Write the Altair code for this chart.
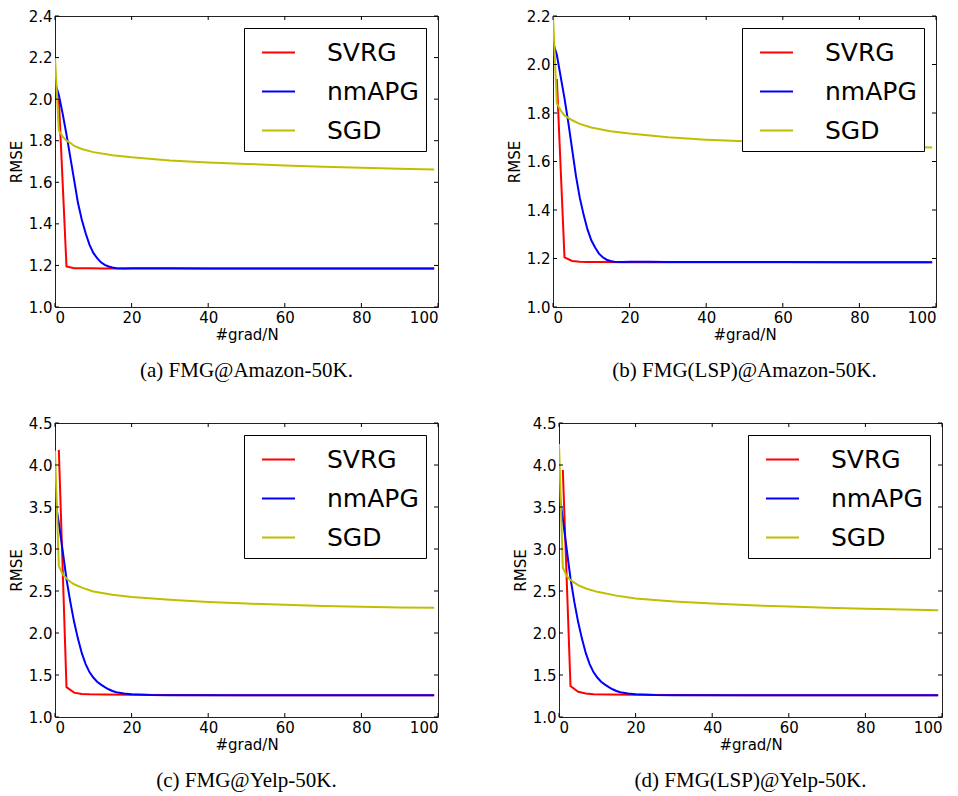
import altair as alt
import pandas as pd

SERIES = ["SVRG", "nmAPG", "SGD"]
COLORS = ["#ff0000", "#0000ff", "#bfbf00"]

X_TICKS = [0, 20, 40, 60, 80, 100]
A_YTICKS = [1.0, 1.2, 1.4, 1.6, 1.8, 2.0, 2.2, 2.4]
B_YTICKS = [1.0, 1.2, 1.4, 1.6, 1.8, 2.0, 2.2]
CD_YTICKS = [1.0, 1.5, 2.0, 2.5, 3.0, 3.5, 4.0, 4.5]

CAPTIONS = ["(a) FMG@Amazon-50K.", "(b) FMG(LSP)@Amazon-50K.",
            "(c) FMG@Yelp-50K.", "(d) FMG(LSP)@Yelp-50K."]

# x positions (#grad/N) of the recorded points
SVRG_X = [1, 3, 5, 7, 9, 13, 19, 29, 49, 69, 99]
NM_X = [0, 1, 2, 3, 4, 5, 6, 7, 8, 9, 10, 11, 12, 13, 14, 15, 16, 18, 20, 25, 30, 40, 60, 80, 99]
SGD_X = [0, 1, 2, 3, 4, 5, 7, 10, 15, 20, 30, 40, 50, 60, 70, 80, 90, 99]

# (a) FMG@Amazon-50K
a_svrg = [2.00, 1.195, 1.187, 1.186, 1.186, 1.185, 1.185, 1.185, 1.185, 1.185, 1.185]
a_nm = [2.08, 2.02, 1.93, 1.83, 1.72, 1.61, 1.50, 1.42, 1.355, 1.30, 1.26, 1.235, 1.215,
        1.203, 1.195, 1.19, 1.187, 1.185, 1.186, 1.187, 1.186, 1.185, 1.185, 1.185, 1.185]
a_sgd = [2.20, 1.85, 1.82, 1.80, 1.79, 1.775, 1.76, 1.745, 1.73, 1.72, 1.705, 1.695,
         1.688, 1.681, 1.675, 1.67, 1.665, 1.662]

# (b) FMG(LSP)@Amazon-50K
b_svrg = [1.94, 1.205, 1.19, 1.187, 1.186, 1.186, 1.185, 1.185, 1.185, 1.185, 1.185]
b_nm = [2.09, 2.04, 1.95, 1.86, 1.76, 1.65, 1.54, 1.45, 1.38, 1.32, 1.275, 1.245, 1.22,
        1.205, 1.195, 1.19, 1.187, 1.186, 1.187, 1.187, 1.186, 1.186, 1.186, 1.185, 1.185]
b_sgd = [2.20, 1.84, 1.81, 1.79, 1.78, 1.77, 1.755, 1.74, 1.725, 1.715, 1.70, 1.69,
         1.683, 1.677, 1.672, 1.667, 1.662, 1.658]

# (c) FMG@Yelp-50K
c_svrg = [4.18, 1.355, 1.29, 1.275, 1.27, 1.267, 1.264, 1.262, 1.26, 1.26, 1.26]
c_nm = [3.60, 3.31, 2.98, 2.64, 2.37, 2.13, 1.93, 1.76, 1.63, 1.535, 1.47, 1.42, 1.385,
        1.355, 1.33, 1.31, 1.295, 1.28, 1.27, 1.262, 1.26, 1.26, 1.26, 1.26, 1.26]
c_sgd = [4.17, 2.80, 2.70, 2.65, 2.61, 2.58, 2.54, 2.495, 2.455, 2.43, 2.395, 2.37,
         2.35, 2.335, 2.322, 2.313, 2.305, 2.30]

# (d) FMG(LSP)@Yelp-50K
d_svrg = [3.94, 1.37, 1.30, 1.28, 1.27, 1.267, 1.264, 1.262, 1.26, 1.26, 1.26]
d_nm = [3.70, 3.36, 3.00, 2.65, 2.37, 2.13, 1.93, 1.76, 1.63, 1.535, 1.47, 1.42, 1.385,
        1.355, 1.33, 1.31, 1.295, 1.28, 1.27, 1.262, 1.26, 1.26, 1.26, 1.26, 1.26]
d_sgd = [4.25, 2.78, 2.68, 2.63, 2.60, 2.57, 2.53, 2.49, 2.445, 2.41, 2.375, 2.35,
         2.33, 2.315, 2.30, 2.29, 2.28, 2.27]

W = 383
H1, H2 = 291, 294
FONT = "DejaVu Sans"


def make_df(svrg, nm, sgd):
    rows = []
    for x, y in zip(SVRG_X, svrg):
        rows.append({"series": "SVRG", "x": x, "y": y})
    for x, y in zip(NM_X, nm):
        rows.append({"series": "nmAPG", "x": x, "y": y})
    for x, y in zip(SGD_X, sgd):
        rows.append({"series": "SGD", "x": x, "y": y})
    return pd.DataFrame(rows)


def panel(df, ydom, yticks, caption, H):
    xs = alt.Scale(domain=[0, 100], nice=False, zero=False)
    ys = alt.Scale(domain=ydom, nice=False, zero=False)
    xax = alt.Axis(values=X_TICKS, format="d", title="#grad/N",
                   labelPadding=3, titlePadding=2)
    yax = alt.Axis(values=yticks, format=".1f", title="RMSE",
                   labelPadding=3, titlePadding=4)
    lines = alt.Chart(df).mark_line(strokeWidth=2, clip=True).encode(
        x=alt.X("x:Q", scale=xs, axis=xax),
        y=alt.Y("y:Q", scale=ys, axis=yax),
        color=alt.Color("series:N",
                        scale=alt.Scale(domain=SERIES, range=COLORS),
                        legend=alt.Legend(title=None, orient="top-right", offset=12,
                                          padding=7, strokeColor="black",
                                          fillColor="white", labelFont=FONT,
                                          labelFontSize=25, labelColor="black",
                                          symbolType="stroke", symbolStrokeWidth=2,
                                          symbolSize=1089, symbolOffset=10,
                                          labelOffset=31, rowPadding=8,
                                          cornerRadius=0)),
    )
    ytick_df = pd.DataFrame({"v": yticks})
    xtick_df = pd.DataFrame({"v": X_TICKS})
    yl = alt.Chart(ytick_df).mark_rule(color="black").encode(
        y=alt.Y("v:Q", scale=ys, axis=yax), x=alt.value(0), x2=alt.value(4))
    yr = alt.Chart(ytick_df).mark_rule(color="black").encode(
        y=alt.Y("v:Q", scale=ys, axis=yax), x=alt.value(W - 4), x2=alt.value(W))
    xb = alt.Chart(xtick_df).mark_rule(color="black").encode(
        x=alt.X("v:Q", scale=xs, axis=xax), y=alt.value(H - 4), y2=alt.value(H))
    xt = alt.Chart(xtick_df).mark_rule(color="black").encode(
        x=alt.X("v:Q", scale=xs, axis=xax), y=alt.value(0), y2=alt.value(4))
    return alt.layer(lines, yl, yr, xb, xt).properties(
        width=W, height=H,
        title=alt.TitleParams(caption, orient="bottom", anchor="middle",
                              font="Liberation Serif", fontSize=21,
                              fontWeight="normal", color="black", offset=18),
    )


pa = panel(make_df(a_svrg, a_nm, a_sgd), [1.0, 2.4], A_YTICKS, CAPTIONS[0], H1)
pb = panel(make_df(b_svrg, b_nm, b_sgd), [1.0, 2.2], B_YTICKS, CAPTIONS[1], H1)
pc = panel(make_df(c_svrg, c_nm, c_sgd), [1.0, 4.5], CD_YTICKS, CAPTIONS[2], H2)
pd_ = panel(make_df(d_svrg, d_nm, d_sgd), [1.0, 4.5], CD_YTICKS, CAPTIONS[3], H2)


def res(ch):
    return ch.resolve_scale(x="independent", y="independent", color="independent") \
             .resolve_legend(color="independent")


row1 = res(alt.hconcat(pa, pb, spacing=67))
row2 = res(alt.hconcat(pc, pd_, spacing=73))

chart = res(alt.vconcat(row1, row2, spacing=33)).properties(
    padding={"left": 0, "top": 0, "right": 0, "bottom": 0},
    background="white",
).configure_axis(
    labelFont=FONT, labelFontSize=15, labelColor="black",
    titleFont=FONT, titleFontSize=15, titleFontWeight="normal", titleColor="black",
    ticks=False, domain=False, grid=False,
).configure_view(
    stroke="#222222", strokeWidth=1,
)

chart.save("out.html", embed_options={"renderer": "svg", "actions": False})
